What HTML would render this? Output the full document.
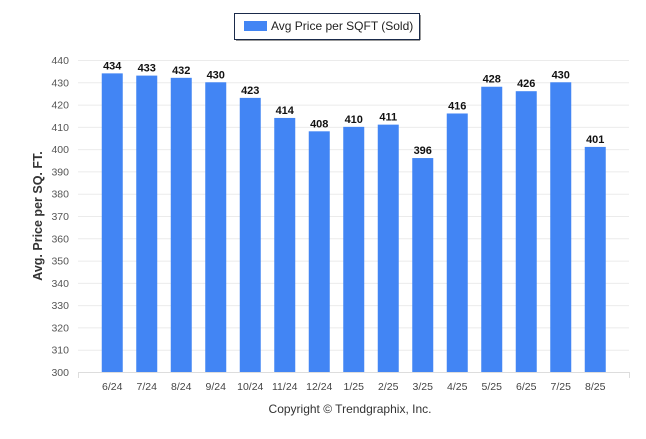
<!DOCTYPE html>
<html><head><meta charset="utf-8"><style>
body{margin:0;background:#fff;width:646px;height:434px;overflow:hidden;font-family:"Liberation Sans",sans-serif}
</style></head><body>
<svg id="chart" width="646" height="434" style="font-family:'Liberation Sans',sans-serif">
<g>
<rect x="234.5" y="13.5" width="185" height="26" fill="#fff" stroke="#1a2a4a" stroke-width="1"/>
<line x1="236" y1="40.5" x2="420" y2="40.5" stroke="#999"/>
<line x1="420.5" y1="15" x2="420.5" y2="40" stroke="#999"/>
<rect x="244" y="21" width="23" height="10" fill="#4285f4"/>
<text x="271" y="30" font-size="12" fill="#222">Avg Price per SQFT (Sold)</text>
</g>
<g id="grid"></g><g id="bars"></g>
<text transform="translate(42,216) rotate(-90)" text-anchor="middle" font-size="12.5" font-weight="bold" fill="#333">Avg. Price per SQ. FT.</text>
<text x="350" y="413" text-anchor="middle" font-size="12" fill="#333">Copyright © Trendgraphix, Inc.</text>
</svg>
<script>
const categories=["6/24","7/24","8/24","9/24","10/24","11/24","12/24","1/25","2/25","3/25","4/25","5/25","6/25","7/25","8/25"];
const values=[434,433,432,430,423,414,408,410,411,396,416,428,426,430,401];
const yTicks=[300,310,320,330,340,350,360,370,380,390,400,410,420,430,440];
const NS="http://www.w3.org/2000/svg";
const x0=78,x1=629,bandStart=95,band=34.5,barW=21;
function y(v){return 372-(v-300)*(312/140);}
function xc(i){return bandStart+band*(i+0.5);}
function mk(t,a,p){const e=document.createElementNS(NS,t);for(const k in a)e.setAttribute(k,a[k]);p.appendChild(e);return e;}
const g=document.getElementById('grid'),b=document.getElementById('bars');
yTicks.forEach(t=>{
 const l=mk('line',{x1:x0,x2:x1,y1:y(t)+0.5,y2:y(t)+0.5,stroke:t===300?'#ddd':'#ebebeb'},g);
 
 
 const tx=mk('text',{x:69,y:y(t)+4,'text-anchor':'end','font-size':'10.5',fill:'#555'},g);
 tx.textContent=t;
 
 
});
[x0,x1].forEach(xx=>{const l=mk('line',{x1:xx+0.5,x2:xx+0.5,y1:372,y2:378,stroke:'#ddd'},g);
 
 });
categories.forEach((c,i)=>{
 const v=values[i];
 const r=mk('rect',{x:xc(i)-barW/2,y:y(v),width:barW,height:372-y(v),fill:'#4285f4'},b);
 
 
 const t=mk('text',{x:xc(i),y:y(v)-4,'text-anchor':'middle','font-size':'11','font-weight':'bold',fill:'#111'},b);
 t.textContent=v;
 
 
 const xl=mk('text',{x:xc(i),y:390,'text-anchor':'middle','font-size':'10.5',fill:'#444'},b);
 xl.textContent=c;
 
 
});
</script>
</body></html>
